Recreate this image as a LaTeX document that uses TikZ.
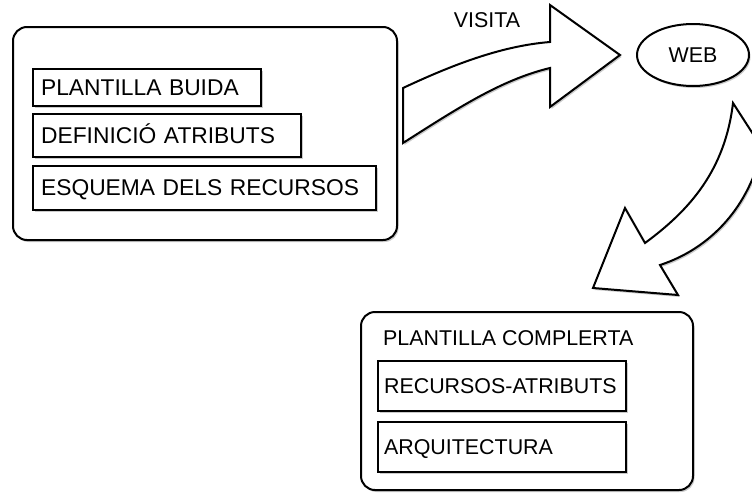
\documentclass[tikz,border=0pt]{standalone}
\usepackage{fontspec}
\setmainfont{Liberation Sans}
\usetikzlibrary{shapes.geometric}
\usetikzlibrary{shadows}
\definecolor{shadowgray}{RGB}{80,80,80}
\newcommand{\wideitemfont}{\fontsize{22.8}{27}\selectfont}
\newcommand{\itemfont}{\fontsize{21.4}{26}\selectfont}
\tikzstyle{softshadow}=[drop shadow={shadow xshift=1.5pt,shadow yshift=-2pt,opacity=0.3,fill=shadowgray}]
\tikzstyle{outerbox}=[draw=black,line width=2pt,fill=white,rounded corners=14pt,softshadow]
\tikzstyle{itembox}=[draw=black,line width=2.2pt,fill=white,softshadow,anchor=north west,
  inner xsep=8pt,text height=15.5pt,text depth=0pt,align=left]
\tikzstyle{blockarrow}=[draw=black,line width=2pt,fill=white,line join=miter,softshadow]

\begin{document}
\begin{tikzpicture}[x=1pt,y=-1pt]
  \clip (0,0) rectangle (752,493);

  % left group
  \node[outerbox,minimum width=384pt,minimum height=213pt] (buida) at (205,133.5) {};
  \node[itembox,font=\wideitemfont,text width=212pt,minimum height=37pt] (plantilla) at (32,68) {PLANTILLA BUIDA};
  \node[itembox,font=\wideitemfont,text width=252pt,minimum height=43pt] (definicio) at (32,113) {DEFINICIÓ ATRIBUTS};
  \node[itembox,font=\wideitemfont,text width=327pt,minimum height=44pt] (esquema) at (32,165) {ESQUEMA DELS RECURSOS};

  % curved arrow to the web
  \draw[blockarrow] (403,88) .. controls (450,66) and (500,46) .. (550,42) -- (550,5) -- (620,55) --
    (550,107) -- (550,68) .. controls (500,80) and (455,110) .. (403,143) -- cycle;
  \node[font=\itemfont,inner sep=0pt,text height=15.5pt,text depth=0pt] (visita) at (487,20) {VISITA};

  \node[ellipse,draw=black,line width=2pt,fill=white,softshadow,font=\itemfont,
    minimum width=112pt,minimum height=62pt,inner sep=0pt] (web) at (693,55) {WEB};

  % curved arrow down to the full template
  \draw[blockarrow] (733,103) -- (762,148) .. controls (750,205) and (712,248) .. (660,265) --
    (678,295) -- (593,288) -- (625,208) -- (645,243) .. controls (690,210) and (725,170) .. (733,103) -- cycle;

  % right group
  \node[outerbox,minimum width=332pt,minimum height=178pt] (completa) at (527,401) {};
  \node[font=\itemfont,anchor=west,inner sep=0pt,text height=15.5pt,text depth=0pt] (titol) at (383,338) {PLANTILLA COMPLERTA};
  \node[itembox,font=\itemfont,inner xsep=6pt,text width=236pt,minimum height=50pt] (recursos) at (377,360) {RECURSOS-ATRIBUTS};
  \node[itembox,font=\itemfont,inner xsep=6pt,text width=236pt,minimum height=50pt] (arquitectura) at (377,421) {ARQUITECTURA};
\end{tikzpicture}
\end{document}
